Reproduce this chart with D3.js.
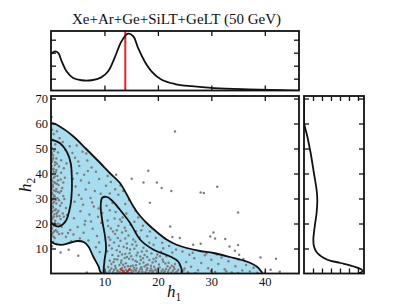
<!DOCTYPE html>
<html>
<head>
<meta charset="utf-8">
<script src="https://cdn.jsdelivr.net/npm/d3@7"></script>
<style>
body { margin: 0; background: #fff; }
text { font-family: "Liberation Serif", "DejaVu Serif", serif; fill: #111; }
</style>
</head>
<body>
<div id="chart"></div>
<script>
var W = 405, H = 304;
var MAIN = {left: 51, right: 299, top: 96, bottom: 273.5};
var TOP = {top: 31, bottom: 90.5};
var SIDE = {left: 304, right: 364};
var TICK = 5;

var title = 'Xe+Ar+Ge+SiLT+GeLT (50 GeV)';
var bestFit = [13.9, 0];
var xTicks = [10, 20, 30, 40];
var yTicks = [10, 20, 30, 40, 50, 60, 70];
var topTicks = [1, 2, 3, 4];
var sideTicks = [1, 2, 3, 4, 5, 6];

// contours, [h1, h2]
var outerContour = [[0,60],[2,58.3],[4.2,54.8],[6.5,50],[9.2,44.2],[11,40.2],[12.9,36.2],[14.2,31.5],[15.4,26.8],
  [16.6,23.2],[17.9,20.2],[19.8,16.6],[21.7,13.5],[23.5,11.5],[25.4,10.2],[27.9,9.0],[30.4,8.2],[33.5,6.6],
  [36.6,4.8],[38.5,2.8],[39.2,1.2],[39.5,0],[9.5,0],[8.9,2.8],[7.9,6.8],[7,10.8],[6.2,12.5],[5,13],[3.6,12.3],
  [1.7,11.5],[0,13]];
var innerLeft = [[0,53.7],[1.7,52.1],[3.0,48.5],[3.7,44],[3.9,38],[3.9,33.5],[3.6,26.8],[2.7,20.8],[1.4,18.8],[0.5,19.5],[0,20.5]];
var innerMid = [[9.8,0],[10.0,5],[10.3,10],[10.1,15],[9.6,21],[9.3,27],[9.6,30.3],[10.5,30.6],[11.5,29],[12.9,25.5],
  [14.8,20.2],[16.7,13.5],[19.2,9.5],[22.3,6.8],[23.8,4.8],[24.4,2],[24.5,0]];

var topH1 = [0,0.7,1.35,2.0,2.9,4.15,5.7,7.6,9.4,10.7,11.9,13.2,14.4,15.4,16.3,17.5,18.8,20.7,23.2,26.3,30.6,36.9,43.1,46.4];
var topDensity = [2.9,3.1,2.98,2.34,1.57,1.05,0.88,0.88,1.1,1.57,2.6,3.88,4.46,4.26,3.36,2.34,1.57,0.92,0.59,0.42,0.28,0.18,0.11,0.08];
var sideH2 = [71,64,60.5,54.8,48.2,40.2,33.5,29.5,24.2,18.8,13.5,10.8,8.2,5.5,4.2,2.8,1.8,1.0,0.4,0];
var sideDensity = [0,0,0,0.37,0.74,1.1,1.4,1.48,1.4,1.19,1.04,1.11,1.48,2.6,4.07,5.55,6.3,6.55,6.3,6.0];

var samples = [
  [0.2,57.5],[0.5,55.8],[1.1,56.9],[0.3,53.2],[1.6,54.1],[0.8,51.7],[2.2,52.6],[0.1,50.3],[0.6,49.1],[1.3,48.4],
  [2.7,49.5],[0.4,47.2],[1.0,46.0],[1.9,45.3],[0.2,44.6],[0.7,43.4],[1.5,42.8],[0.3,41.7],[2.4,42.1],[0.9,40.5],
  [0.1,39.6],[1.2,39.0],[0.5,38.2],[1.8,37.6],[0.2,36.9],[0.8,36.1],[1.4,35.4],[0.4,34.7],[2.1,34.2],[0.1,33.5],
  [0.9,32.9],[1.6,32.3],[0.3,31.6],[0.7,30.8],[1.2,30.1],[0.2,29.4],[2.5,29.8],[0.6,28.7],[1.0,28.0],[0.1,27.3],
  [1.7,27.1],[0.4,26.4],[0.9,25.7],[1.4,25.1],[0.2,24.5],[2.2,24.0],[0.6,23.6],[1.1,22.9],[0.3,22.2],[1.8,21.8],
  [0.8,21.1],[0.1,20.4],[1.3,19.9],[0.5,19.2],[2.0,18.7],[0.2,18.1],[0.9,17.3],[0.4,16.4],[1.5,15.8],[0.1,15.0],
  [0.7,14.2],[0.3,45.5],[1.1,43.9],[0.5,40.8],[1.3,37.2],[0.2,35.0],[1.0,33.8],[0.6,31.2],[1.5,29.3],[0.3,26.9],
  [1.2,24.4],[0.7,20.3],[0.2,47.9],[2.6,38.3],[2.9,44.0],[2.3,31.0],[2.8,26.2],[2.6,20.6],[0.4,12.6],[1.0,11.8],
  [0.2,10.9],
  [0.1,48.6],[0.4,46.1],[0.8,44.5],[0.1,42.9],[0.5,41.9],[1.0,41.4],[0.3,39.9],[0.7,38.8],[0.1,37.5],[0.6,36.6],
  [1.1,35.9],[0.3,35.6],[0.1,34.1],[0.6,33.2],[1.3,32.6],[0.2,32.3],[0.5,30.4],[0.1,30.0],[0.9,29.5],[0.4,28.2],
  [0.1,26.1],[0.7,25.3],[0.3,25.0],[1.0,23.9],[0.1,23.1],[0.5,22.6],[0.2,21.6],[0.9,19.7],[0.3,19.8],[0.1,17.6],
  [0.6,16.9],[1.2,16.6],[0.2,15.8],[0.5,14.7],[1.9,40.3],[2.3,36.4],[1.9,33.0],[2.0,28.2],[1.6,23.0],[2.4,22.7],
  [1.7,19.6],[2.1,16.0],[3.2,16.2],[3.0,23.4],
  [4.8,51.2],[5.9,48.7],[4.5,46.3],[6.8,45.2],[5.3,43.0],[7.6,42.4],[4.9,40.1],[6.2,39.5],[8.4,40.7],[5.6,37.2],
  [7.1,36.3],[9.0,37.8],[4.6,34.8],[6.5,33.6],[8.2,33.0],[10.3,35.1],[5.2,31.4],[7.4,30.2],[9.3,31.9],[4.4,28.7],
  [6.0,27.5],[8.0,26.8],[5.5,24.9],[7.2,23.6],[8.8,22.7],[4.3,22.1],[6.4,21.0],[9.4,20.3],[3.6,17.4],[5.0,18.6],
  [7.8,17.9],[4.2,15.6],[6.1,16.3],[8.6,15.0],[2.8,14.7],[5.4,14.0],[7.0,13.2],[9.0,12.4],[8.4,10.5],[9.1,8.6],
  [6.3,19.6],[5.7,29.9],[7.7,28.4],[4.1,37.9],[6.9,41.0],[5.1,44.8],[3.5,50.9],[8.9,26.0],[7.5,20.8],[9.6,24.2],
  [3.8,12.9],[10.6,39.0],[11.2,36.6],[12.0,33.7],[11.0,32.0],[6.6,48.0],[4.0,48.2],
  [10.4,0.3],[11.0,1.2],[11.6,0.5],[12.1,2.1],[12.5,0.8],[13.0,1.6],[13.4,0.2],[13.8,2.6],[14.3,0.9],[14.7,1.8],
  [15.1,0.4],[15.5,2.3],[15.9,1.1],[16.3,0.3],[16.7,1.9],[17.1,0.7],[17.5,2.8],[17.9,1.4],[18.3,0.2],[18.7,2.0],
  [19.1,0.9],[19.5,1.6],[19.9,0.4],[20.3,2.4],[20.7,1.0],[21.1,0.3],[21.5,1.8],[21.9,0.6],[22.3,2.2],[22.8,1.1],
  [23.3,0.4],[23.8,1.5],[24.4,0.7],[25.0,2.0],[25.6,0.5],[12.8,3.4],[14.0,4.1],[15.3,3.2],[16.6,3.9],[17.8,3.3],
  [19.0,4.4],[20.2,3.6],[21.4,4.0],[22.6,3.1],[11.3,3.8],[10.7,2.6],[13.2,5.2],[14.6,5.9],[15.8,5.0],[17.2,6.1],
  [18.4,5.4],[19.7,6.3],[20.9,5.6],[11.9,5.7],[12.6,7.0],[13.9,7.8],[15.0,6.9],[16.2,8.3],[17.5,7.4],[18.8,8.0],
  [10.5,8.9],[11.4,10.0],[12.3,9.3],[13.6,10.7],[14.8,9.6],[16.0,11.2],[17.3,10.3],[11.8,12.4],[13.0,13.1],[14.2,12.0],
  [15.4,13.6],[10.8,14.5],[12.0,15.8],[13.3,16.4],[14.5,15.2],[11.2,18.0],[12.6,19.1],[13.8,18.3],[10.6,21.2],[11.9,22.0],
  [12.9,21.6],[11.0,25.3],[12.1,24.6],[10.4,27.1],[11.5,28.2],
  [12.2,0.1],[13.6,1.0],[14.9,2.9],[15.7,1.5],[16.9,2.5],[18.1,3.6],[19.3,2.7],[20.5,0.1],[21.8,2.9],[23.0,2.6],
  [24.1,3.2],[11.7,4.6],[13.1,4.3],[16.1,4.7],[18.9,1.2],[14.2,6.6],[16.8,5.4],[19.9,7.6],[21.6,6.9],[12.9,8.6],
  [15.6,9.9],[17.9,9.0],[20.6,8.7],[15.2,11.6],[18.4,12.3],[16.6,14.4],[14.0,17.1],[15.9,16.9],[13.2,20.7],[14.9,19.5],
  [10.9,0.6],[11.3,2.0],[11.8,1.4],[12.4,1.2],[12.9,0.5],[13.3,2.2],[14.0,1.5],[14.5,0.3],[15.0,1.3],[15.4,1.0],
  [16.0,2.0],[16.5,0.9],[17.0,1.6],[17.7,0.5],[18.0,2.1],[18.5,1.1],[19.0,0.3],[19.7,1.2],[20.0,2.0],[20.9,1.6],
  [21.3,0.9],[22.0,1.4],[22.5,0.3],[23.1,1.8],[23.6,0.8],[24.8,1.2],[12.0,3.0],[13.5,3.5],[14.4,2.9],[15.9,3.3],
  [17.3,4.4],[18.7,3.1],[19.6,4.9],[21.0,4.7],[22.0,4.3],[23.2,3.8],[11.0,5.1],[12.4,5.6],[13.8,6.2],[15.3,5.6],
  [16.7,6.8],[18.0,6.6],[19.2,5.8],[20.4,6.9],[11.5,7.4],[13.3,7.6],[14.7,8.1],[16.0,7.2],[17.0,8.8],[10.9,11.2],
  [12.7,11.0],[14.2,10.2],[15.8,12.7],[11.1,13.5],[12.5,14.2],[13.9,14.0],[11.6,16.8],[10.7,19.0],[12.3,17.3],[13.4,22.4],
  [13.5,33.0],[14.6,29.4],[15.8,25.1],[13.9,27.8],[16.3,22.4],[14.1,24.0],[17.2,19.1],[15.6,20.7],[18.5,16.8],[16.9,17.3],
  [19.6,14.2],[18.0,14.9],[20.8,12.3],[19.2,11.5],[22.1,11.0],[21.0,10.1],[23.4,9.6],[22.7,8.4],[24.6,8.8],[25.9,7.5],
  [12.6,31.5],[13.0,35.2],
  [25.3,4.6],[26.2,2.7],[26.8,6.1],[27.5,1.3],[28.1,4.2],[28.8,7.3],[29.4,2.1],[30.0,5.5],[30.7,0.6],[31.3,3.8],
  [31.9,6.4],[32.5,1.7],[33.2,4.9],[33.8,0.4],[34.5,2.9],[35.1,5.6],[35.8,1.2],[36.5,3.4],[37.2,0.8],[37.9,2.3],
  [38.6,0.3],[27.0,0.2],[29.9,1.0],[32.8,0.9],[35.0,0.2],[26.5,8.3],[29.1,8.0],[31.0,7.6],
  [0.1,62.6],[23.2,56.8],[31.1,34.7],[28.0,32.4],[28.6,32.2],[35.0,24.4],[18.2,41.1],[15.1,37.9],[17.3,36.4],[19.8,36.4],
  [20.7,34.2],[22.5,33.0],[18.5,28.3],[12.2,39.5],[22.3,18.8],[22.7,14.6],[24.1,14.2],[26.6,11.5],[28.0,11.9],[30.4,16.4],
  [29.8,14.8],[30.7,14.0],[32.6,13.8],[33.4,10.8],[35.0,11.4],[34.4,9.1],[35.2,7.5],[36.0,5.8],[39.2,6.4],[42.1,5.9],
  [41.1,1.5],[42.8,0.7],[40.0,0.3],[3.3,9.5],[6.7,0.4],[5.1,7.1],[1.8,8.4]
];

var svg = d3.select('#chart').append('svg')
  .attr('width', W)
  .attr('height', H);

var x = d3.scaleLinear().domain([0, 46.4]).range([MAIN.left, MAIN.right]);
var y = d3.scaleLinear().domain([0, 71]).range([MAIN.bottom, MAIN.top]);
var yTop = d3.scaleLinear().domain([0.09, 4.67]).range([TOP.bottom, TOP.top]);
var xSide = d3.scaleLinear().domain([0, 6.67]).range([SIDE.left, SIDE.right]);

var defs = svg.append('defs');
function clip(id, x0, y0, x1, y1) {
  defs.append('clipPath').attr('id', id).append('rect')
    .attr('x', x0).attr('y', y0).attr('width', x1 - x0).attr('height', y1 - y0);
  return 'url(#' + id + ')';
}

// inward ticks on all four sides, labels only where asked
function frame(g, xs, ys, xv, yv, labelled) {
  var x0 = xs.range()[0], x1 = xs.range()[1], y0 = ys.range()[0], y1 = ys.range()[1];
  var b = g.append('g').attr('transform', 'translate(0,' + y0 + ')')
    .call(d3.axisBottom(xs).tickValues(xv).tickSize(-TICK).tickPadding(4).tickFormat(labelled ? d3.format('d') : ''));
  var t = g.append('g').attr('transform', 'translate(0,' + y1 + ')')
    .call(d3.axisTop(xs).tickValues(xv).tickSize(-TICK).tickFormat(''));
  var l = g.append('g').attr('transform', 'translate(' + x0 + ',0)')
    .call(d3.axisLeft(ys).tickValues(yv).tickSize(-TICK).tickPadding(3).tickFormat(labelled ? d3.format('d') : ''));
  var r = g.append('g').attr('transform', 'translate(' + x1 + ',0)')
    .call(d3.axisRight(ys).tickValues(yv).tickSize(-TICK).tickFormat(''));
  [b, t, l, r].forEach(function(a) {
    a.select('.domain').remove();
    a.selectAll('line').attr('stroke', '#111').attr('stroke-width', 1.3);
    a.selectAll('text').attr('font-family', '"Liberation Serif", serif').attr('font-size', 12.5).attr('fill', '#222');
  });
  g.append('rect')
    .attr('x', x0).attr('y', y1)
    .attr('width', x1 - x0).attr('height', y0 - y1)
    .attr('fill', 'none').attr('stroke', '#111').attr('stroke-width', 1.8);
}

// main panel
var mainG = svg.append('g');
var plot = mainG.append('g').attr('clip-path', clip('clipMain', MAIN.left, MAIN.top, MAIN.right, MAIN.bottom));
var line = d3.line().x((d) => x(d[0])).y((d) => y(d[1])).curve(d3.curveCatmullRom.alpha(0.5));
var closedLine = d3.line().x((d) => x(d[0])).y((d) => y(d[1])).curve(d3.curveCatmullRomClosed.alpha(0.5));

plot.append('path')
  .attr('d', closedLine(outerContour))
  .attr('fill', '#a8dcef');

plot.selectAll('circle')
  .data(samples)
  .enter().append('circle')
  .attr('cx', (d) => x(d[0]))
  .attr('cy', (d) => y(d[1]))
  .attr('r', 1.2)
  .attr('fill', '#7d7d7d');

plot.append('path')
  .attr('d', closedLine(outerContour))
  .attr('fill', 'none').attr('stroke', '#111').attr('stroke-width', 1.8);
[innerLeft, innerMid].forEach(function(c) {
  plot.append('path').attr('d', line(c))
    .attr('fill', 'none').attr('stroke', '#111').attr('stroke-width', 1.8);
});

var bx = x(bestFit[0]), by = y(bestFit[1]);
plot.append('path')
  .attr('d', 'M' + (bx - 5) + ',' + (by - 5) + 'L' + (bx + 5) + ',' + (by + 5) + 'M' + (bx - 5) + ',' + (by + 5) + 'L' + (bx + 5) + ',' + (by - 5))
  .attr('stroke', '#e8231f').attr('stroke-width', 1.8).attr('fill', 'none');

frame(mainG, x, y, xTicks, yTicks, true);

// top marginal
var topG = svg.append('g');
var topPlot = topG.append('g').attr('clip-path', clip('clipTop', MAIN.left, TOP.top, MAIN.right, TOP.bottom));
topPlot.append('line')
  .attr('x1', x(bestFit[0])).attr('x2', x(bestFit[0]))
  .attr('y1', TOP.top).attr('y2', TOP.bottom)
  .attr('stroke', '#e8231f').attr('stroke-width', 2);
topPlot.append('path')
  .datum(d3.zip(topH1, topDensity))
  .attr('d', d3.line().x((d) => x(d[0])).y((d) => yTop(d[1])).curve(d3.curveCatmullRom.alpha(0.5)))
  .attr('fill', 'none').attr('stroke', '#111').attr('stroke-width', 1.8);
frame(topG, x, yTop, xTicks, topTicks, false);

// side marginal
var sideG = svg.append('g');
var sidePlot = sideG.append('g').attr('clip-path', clip('clipSide', SIDE.left, MAIN.top, SIDE.right, MAIN.bottom));
sidePlot.append('path')
  .datum(d3.zip(sideDensity, sideH2))
  .attr('d', d3.line().x((d) => xSide(d[0])).y((d) => y(d[1])).curve(d3.curveCatmullRom.alpha(0.5)))
  .attr('fill', 'none').attr('stroke', '#111').attr('stroke-width', 1.8);
frame(sideG, xSide, y, sideTicks, yTicks, false);

// titles
svg.append('text')
  .attr('x', 176.5).attr('y', 24)
  .attr('text-anchor', 'middle')
  .attr('font-size', 15)
  .text(title);

var xl = svg.append('text')
  .attr('x', 167).attr('y', 297)
  .attr('font-size', 17)
  .attr('font-style', 'italic')
  .text('h');
xl.append('tspan').attr('dy', 3.5).attr('font-size', 11.5).attr('font-style', 'normal').text('1');

var yl = svg.append('text')
  .attr('transform', 'translate(31,192)rotate(-90)')
  .attr('font-size', 17)
  .attr('font-style', 'italic')
  .text('h');
yl.append('tspan').attr('dy', 3.5).attr('font-size', 11.5).attr('font-style', 'normal').text('2');
</script>
</body>
</html>
